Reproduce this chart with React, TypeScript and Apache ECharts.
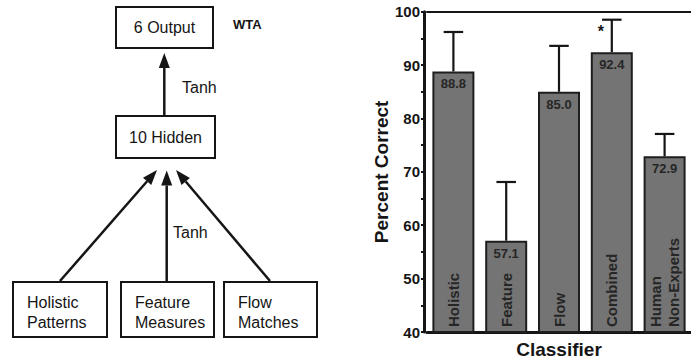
import React, { useEffect, useRef } from "react";
import * as echarts from "echarts";

// ---- data ----
const categories = ["Holistic", "Feature", "Flow", "Combined", "Human\nNon-Experts"];
const percentCorrect = [88.8, 57.1, 85.0, 92.4, 72.9];
const errorUpper = [7.4, 11.0, 8.6, 6.1, 4.2];
const significance = ["", "", "", "*", ""];
const yMin = 40;
const yMax = 100;
const yStep = 5;

// ---- network diagram (left) ----
const diagramBoxes = [
  { label: "6 Output", x: 116, y: 7, w: 97, h: 41, center: true },
  { label: "10 Hidden", x: 116, y: 116, w: 99, h: 42, center: true },
  { label: "Holistic\nPatterns", x: 13, y: 282, w: 94, h: 55, center: false },
  { label: "Feature\nMeasures", x: 121, y: 282, w: 93, h: 55, center: false },
  { label: "Flow\nMatches", x: 224, y: 282, w: 93, h: 55, center: false },
];
const diagramArrows = [
  [164.3, 116.5, 164.3, 53],
  [60, 281, 157, 170],
  [166.7, 281, 166.7, 170.5],
  [270, 281, 176, 170],
];
const diagramTexts = [
  { text: "WTA", x: 233, y: 24, size: 13, bold: true },
  { text: "Tanh", x: 182, y: 87, size: 16, bold: false },
  { text: "Tanh", x: 173, y: 232, size: 16, bold: false },
];

const INK = "#151515";
const SANS = "'Liberation Sans', Arial, Helvetica, sans-serif";

function arrowElements(x1: number, y1: number, x2: number, y2: number) {
  const dx = x2 - x1;
  const dy = y2 - y1;
  const len = Math.sqrt(dx * dx + dy * dy);
  const ux = dx / len;
  const uy = dy / len;
  const head = 15;
  const half = 5.5;
  const bx = x2 - ux * head;
  const by = y2 - uy * head;
  const px = -uy;
  const py = ux;
  return [
    {
      type: "line",
      shape: { x1, y1, x2: bx, y2: by },
      style: { stroke: INK, lineWidth: 2.5 },
    },
    {
      type: "polygon",
      shape: {
        points: [
          [x2, y2],
          [bx + px * half, by + py * half],
          [bx - px * half, by - py * half],
        ],
      },
      style: { fill: INK },
    },
  ];
}

function buildGraphic() {
  const els: any[] = [];
  diagramBoxes.forEach((b) => {
    els.push({
      type: "rect",
      shape: { x: b.x, y: b.y, width: b.w, height: b.h },
      style: { fill: "#fff", stroke: INK, lineWidth: 2 },
    });
    els.push({
      type: "text",
      x: b.center ? b.x + b.w / 2 : b.x + 14,
      y: b.center ? b.y + b.h / 2 : b.y + 10,
      style: {
        text: b.label,
        fill: INK,
        fontSize: 16,
        fontFamily: SANS,
        lineHeight: 20,
        align: b.center ? "center" : "left",
        textAlign: b.center ? "center" : "left",
        verticalAlign: b.center ? "middle" : "top",
        textVerticalAlign: b.center ? "middle" : "top",
      },
    });
  });
  diagramArrows.forEach((a) => els.push(...arrowElements(a[0], a[1], a[2], a[3])));
  diagramTexts.forEach((t) =>
    els.push({
      type: "text",
      x: t.x,
      y: t.y,
      style: {
        text: t.text,
        fill: INK,
        fontSize: t.size,
        fontWeight: t.bold ? "bold" : "normal",
        fontFamily: SANS,
        align: "left",
        textAlign: "left",
        verticalAlign: "middle",
        textVerticalAlign: "middle",
      },
    })
  );
  return els;
}

export default function App() {
  const ref = useRef<HTMLDivElement>(null);

  useEffect(() => {
    if (!ref.current) return;
    const chart = echarts.init(ref.current, null, { renderer: "svg" });

    const errorData = categories.map((_, i) => [i, percentCorrect[i], errorUpper[i]]);

    chart.setOption({
      animation: false,
      backgroundColor: "#ffffff",
      textStyle: { fontFamily: SANS },
      grid: { left: 427, right: -9.75, top: 11.7, bottom: 30 },
      xAxis: [
        {
          type: "category",
          data: categories,
          boundaryGap: true,
          axisLine: { show: true, lineStyle: { color: INK, width: 3 } },
          axisTick: { show: false },
          axisLabel: { show: false },
          splitLine: { show: false },
          name: "Classifier",
          nameLocation: "middle",
          nameGap: 8,
          nameTextStyle: {
            fontSize: 19,
            fontWeight: "bold",
            color: INK,
            fontFamily: SANS,
            verticalAlign: "top",
          },
        },
        {
          type: "category",
          data: categories,
          position: "top",
          axisLine: { show: true, lineStyle: { color: INK, width: 2 } },
          axisTick: { show: false },
          axisLabel: { show: false },
          splitLine: { show: false },
        },
      ],
      yAxis: {
        type: "value",
        min: yMin,
        max: yMax,
        interval: yStep,
        offset: 3,
        axisLine: { show: true, lineStyle: { color: INK, width: 3 } },
        axisTick: { show: true, length: 3, lineStyle: { color: INK, width: 2 } },
        splitLine: { show: false },
        axisLabel: {
          formatter: (v: number) => (v % 10 === 0 ? String(v) : ""),
          fontSize: 15,
          fontWeight: "bold",
          color: INK,
          fontFamily: SANS,
          margin: 4,
        },
        name: "Percent Correct",
        nameLocation: "middle",
        nameRotate: 90,
        nameGap: 29,
        nameTextStyle: {
          fontSize: 19,
          fontWeight: "bold",
          color: INK,
          fontFamily: SANS,
        },
      },
      series: [
        {
          type: "bar",
          data: percentCorrect,
          barWidth: 42,
          barGap: "-100%",
          itemStyle: { color: "#747474", borderColor: "#1e1e1e", borderWidth: 2 },
          label: {
            show: true,
            position: "insideTop",
            distance: 6,
            formatter: (p: any) => Number(p.value).toFixed(1),
            fontSize: 13,
            fontWeight: "bold",
            color: "#262626",
            fontFamily: SANS,
          },
          z: 2,
        },
        {
          type: "bar",
          data: percentCorrect,
          barWidth: 42,
          barGap: "-100%",
          silent: true,
          itemStyle: { color: "rgba(0,0,0,0)", borderWidth: 0 },
          label: {
            show: true,
            position: "insideBottom",
            rotate: 90,
            align: "left",
            verticalAlign: "middle",
            distance: 5,
            formatter: (p: any) => categories[p.dataIndex],
            fontSize: 15,
            fontWeight: "bold",
            lineHeight: 18,
            color: "#262626",
            fontFamily: SANS,
          },
          z: 3,
        },
        {
          type: "custom",
          data: errorData,
          z: 4,
          silent: true,
          renderItem: (params: any, api: any) => {
            const i = api.value(0);
            const v = api.value(1);
            const e = api.value(2);
            const base = api.coord([i, v]);
            const top = api.coord([i, v + e]);
            const half = api.size([1, 0])[0] * 0.185;
            const children: any[] = [
              {
                type: "line",
                shape: { x1: base[0], y1: base[1], x2: top[0], y2: top[1] },
                style: { stroke: INK, lineWidth: 2.2 },
              },
              {
                type: "line",
                shape: { x1: top[0] - half, y1: top[1], x2: top[0] + half, y2: top[1] },
                style: { stroke: INK, lineWidth: 2.2 },
              },
            ];
            const mark = significance[params.dataIndex];
            if (mark) {
              children.push({
                type: "text",
                x: top[0] - 11,
                y: top[1] + 12,
                style: {
                  text: mark,
                  fill: INK,
                  fontSize: 16,
                  fontWeight: "bold",
                  fontFamily: SANS,
                  align: "center",
                  verticalAlign: "middle",
                },
              });
            }
            return { type: "group", children };
          },
        },
      ],
      graphic: buildGraphic(),
    });

    return () => chart.dispose();
  }, []);

  return (
    <div
      ref={ref}
      style={{ position: "fixed", left: 0, top: 0, width: 691, height: 364, background: "#fff" }}
    />
  );
}
